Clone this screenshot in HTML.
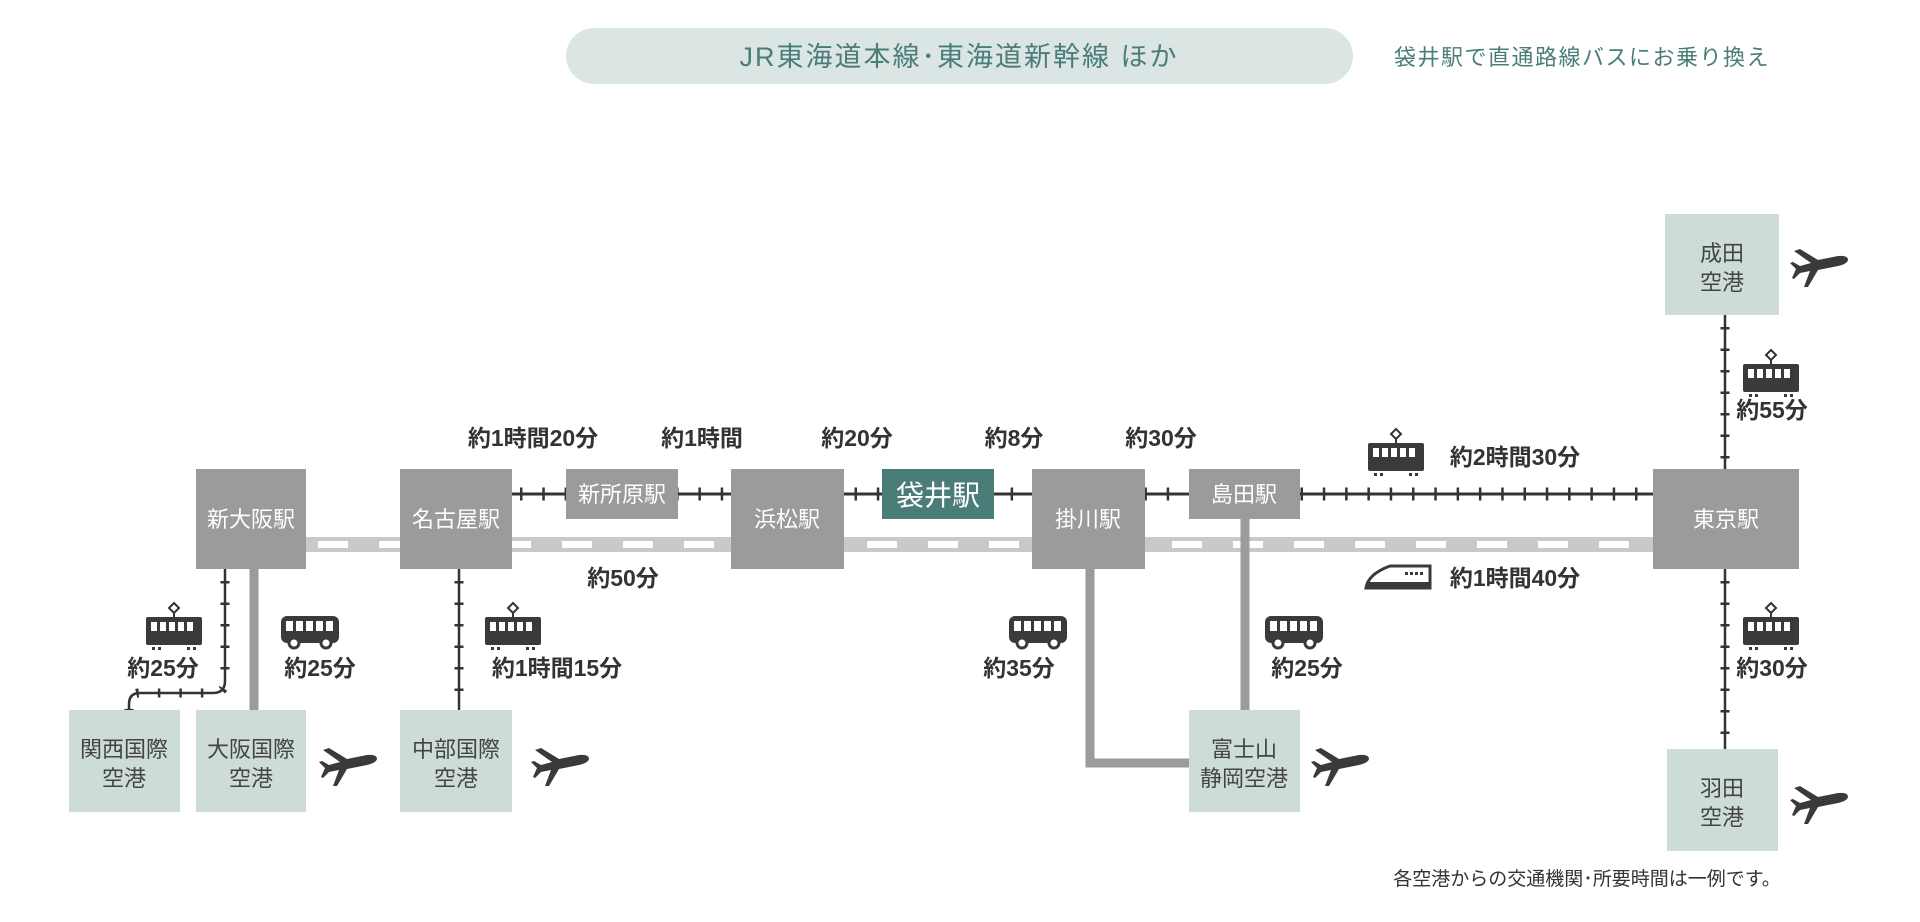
<!DOCTYPE html>
<html><head><meta charset="utf-8"><style>
html,body{margin:0;padding:0;background:#fff;width:1920px;height:922px;overflow:hidden}
text{font-family:"Liberation Sans","Noto Sans CJK JP",sans-serif}
.st{fill:#fff;font-size:22px;text-anchor:middle}
.ap{fill:#444;font-size:22px;text-anchor:middle}
.lb{fill:#333;font-size:23px;font-weight:bold;text-anchor:middle}
</style></head><body>
<svg width="1920" height="922" viewBox="0 0 1920 922" xmlns="http://www.w3.org/2000/svg">
<defs>
<g id="train">
<path d="M0 -24 L5 -19 L0 -14 L-5 -19Z" fill="none" stroke="#333" stroke-width="2"/>
<line x1="0" y1="-14" x2="0" y2="-9" stroke="#333" stroke-width="2"/>
<rect x="-28" y="-10" width="56" height="28" rx="2" fill="#3a3a3a"/>
<g fill="#fff"><rect x="-23" y="-5" width="6" height="9"/><rect x="-14" y="-5" width="6" height="9"/><rect x="-5" y="-5" width="6" height="9"/><rect x="4" y="-5" width="6" height="9"/><rect x="13" y="-5" width="6" height="9"/></g>
<g fill="#3a3a3a"><rect x="-22" y="20" width="3" height="3"/><rect x="-16" y="20" width="3" height="3"/><rect x="13" y="20" width="3" height="3"/><rect x="19" y="20" width="3" height="3"/></g>
</g>
<g id="bus">
<rect x="-29" y="-15" width="58" height="27" rx="6" fill="#3a3a3a"/>
<g fill="#fff"><rect x="-24" y="-10" width="7" height="10"/><rect x="-14" y="-10" width="7" height="10"/><rect x="-4" y="-10" width="7" height="10"/><rect x="6" y="-10" width="7" height="10"/><rect x="16" y="-10" width="7" height="10"/></g>
<circle cx="-16" cy="12" r="5" fill="#fff" stroke="#3a3a3a" stroke-width="3"/>
<circle cx="16" cy="12" r="5" fill="#fff" stroke="#3a3a3a" stroke-width="3"/>
</g>
<g id="plane">
<path d="M-26 -12 L-20 -14 L-2 -3 L18 -7 Q28 -8 28 -3 Q27 1 18 3 L-2 7 L-12 24 L-16 24 L-10 8 L-20 10 L-26 16 L-28 15 L-24 6 L-30 0 L-27 -1 L-20 3 L-9 0 Z" fill="#3a3a3a"/>
</g>
</defs>

<rect x="566" y="28" width="787" height="56" rx="28" fill="#dbe5e4"/>
<text x="959" y="66" font-size="27" fill="#4a7d78" text-anchor="middle" letter-spacing="2">JR東海道本線･東海道新幹線 ほか</text>
<text x="1582" y="65" font-size="22" fill="#4a7d78" text-anchor="middle" letter-spacing="1.5">袋井駅で直通路線バスにお乗り換え</text>

<rect x="306" y="537" width="1347" height="15" fill="#c9c9c9"/>
<line x1="306" y1="544.5" x2="1653" y2="544.5" stroke="#fff" stroke-width="7" stroke-dasharray="30 31" stroke-dashoffset="-12"/>

<g stroke="#333">
<line x1="512" y1="494" x2="1653" y2="494" stroke-width="3"/>
<line x1="512" y1="494" x2="1653" y2="494" stroke-width="13" stroke-dasharray="2.5 19.8" stroke-dashoffset="-8"/>
<line x1="1725" y1="315" x2="1725" y2="469" stroke-width="2.5"/>
<line x1="1725" y1="315" x2="1725" y2="469" stroke-width="9" stroke-dasharray="2.5 19" stroke-dashoffset="-12"/>
<line x1="1725" y1="569" x2="1725" y2="749" stroke-width="2.5"/>
<line x1="1725" y1="569" x2="1725" y2="749" stroke-width="9" stroke-dasharray="2.5 19" stroke-dashoffset="-12"/>
<line x1="459" y1="569" x2="459" y2="710" stroke-width="2.5"/>
<line x1="459" y1="569" x2="459" y2="710" stroke-width="9" stroke-dasharray="2.5 19" stroke-dashoffset="-12"/>
<path d="M225 569 V681 Q225 693 213 693 H140 Q129 693 129 704 V710" fill="none" stroke-width="2.5"/>
<path d="M225 569 V681 Q225 693 213 693 H140 Q129 693 129 704 V710" fill="none" stroke-width="9" stroke-dasharray="2.5 19" stroke-dashoffset="-12"/>
</g>

<g stroke="#9b9b9b" stroke-width="9" fill="none">
<line x1="254" y1="569" x2="254" y2="710"/>
<line x1="1245" y1="519" x2="1245" y2="710"/>
<path d="M1090 569 V763 H1189"/>
</g>

<g fill="#9b9b9b">
<rect x="196" y="469" width="110" height="100"/>
<rect x="400" y="469" width="112" height="100"/>
<rect x="566" y="469" width="112" height="50"/>
<rect x="731" y="469" width="113" height="100"/>
<rect x="1032" y="469" width="113" height="100"/>
<rect x="1189" y="469" width="111" height="50"/>
<rect x="1653" y="469" width="146" height="100"/>
</g>
<rect x="882" y="469" width="112" height="50" fill="#4a7d77"/>
<text class="st" x="251" y="527">新大阪駅</text>
<text class="st" x="456" y="527">名古屋駅</text>
<text class="st" x="622" y="502">新所原駅</text>
<text class="st" x="787" y="527">浜松駅</text>
<text x="938" y="505" fill="#fff" font-size="28" text-anchor="middle">袋井駅</text>
<text class="st" x="1088" y="527">掛川駅</text>
<text class="st" x="1244" y="502">島田駅</text>
<text class="st" x="1726" y="527">東京駅</text>

<g fill="#cddbd9">
<rect x="69" y="710" width="111" height="102"/>
<rect x="196" y="710" width="110" height="102"/>
<rect x="400" y="710" width="112" height="102"/>
<rect x="1189" y="710" width="111" height="102"/>
<rect x="1665" y="214" width="114" height="101"/>
<rect x="1667" y="749" width="111" height="102"/>
</g>
<text class="ap" x="124" y="757">関西国際</text><text class="ap" x="124" y="786">空港</text>
<text class="ap" x="251" y="757">大阪国際</text><text class="ap" x="251" y="786">空港</text>
<text class="ap" x="456" y="757">中部国際</text><text class="ap" x="456" y="786">空港</text>
<text class="ap" x="1244" y="757">富士山</text><text class="ap" x="1244" y="786">静岡空港</text>
<text class="ap" x="1722" y="261">成田</text><text class="ap" x="1722" y="290">空港</text>
<text class="ap" x="1722" y="796">羽田</text><text class="ap" x="1722" y="825">空港</text>

<use href="#plane" x="349" y="762"/>
<use href="#plane" x="561" y="762"/>
<use href="#plane" x="1341" y="762"/>
<use href="#plane" x="1820" y="263"/>
<use href="#plane" x="1820" y="800"/>

<use href="#train" x="1396" y="453"/>
<use href="#train" x="174" y="627"/>
<use href="#train" x="513" y="627"/>
<use href="#train" x="1771" y="374"/>
<use href="#train" x="1771" y="627"/>
<use href="#bus" x="310" y="631"/>
<use href="#bus" x="1038" y="631"/>
<use href="#bus" x="1294" y="631"/>
<path d="M1366 588 Q1368 574 1390 566 H1430 V588 Z" fill="#fff" stroke="#3a3a3a" stroke-width="3"/>
<rect x="1366" y="582" width="64" height="6" fill="#3a3a3a"/>
<g fill="#3a3a3a"><rect x="1405" y="572" width="3" height="3"/><rect x="1410" y="572" width="3" height="3"/><rect x="1415" y="572" width="3" height="3"/><rect x="1420" y="572" width="3" height="3"/></g>

<text class="lb" x="533" y="446">約1時間20分</text>
<text class="lb" x="702" y="446">約1時間</text>
<text class="lb" x="857" y="446">約20分</text>
<text class="lb" x="1014" y="446">約8分</text>
<text class="lb" x="1161" y="446">約30分</text>
<text class="lb" x="1515" y="465">約2時間30分</text>
<text class="lb" x="623" y="586">約50分</text>
<text class="lb" x="1515" y="586">約1時間40分</text>
<text class="lb" x="163" y="676">約25分</text>
<text class="lb" x="320" y="676">約25分</text>
<text class="lb" x="557" y="676">約1時間15分</text>
<text class="lb" x="1019" y="676">約35分</text>
<text class="lb" x="1307" y="676">約25分</text>
<text class="lb" x="1772" y="418">約55分</text>
<text class="lb" x="1772" y="676">約30分</text>

<text x="1587" y="885" font-size="19" fill="#333" text-anchor="middle">各空港からの交通機関･所要時間は一例です。</text>
</svg>
</body></html>
